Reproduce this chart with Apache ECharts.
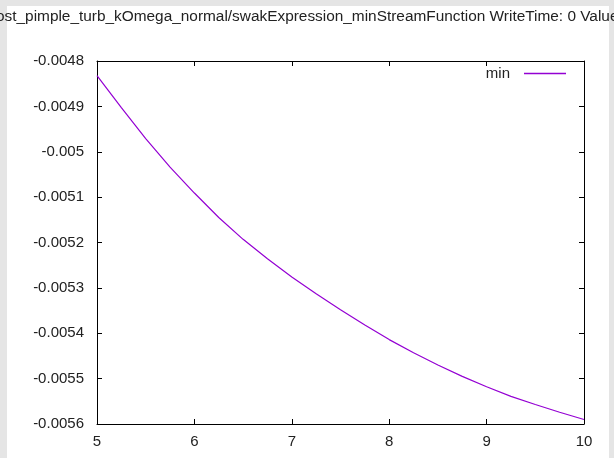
<!DOCTYPE html>
<html>
<head>
<meta charset="utf-8">
<script src="https://cdn.jsdelivr.net/npm/echarts@6/dist/echarts.min.js"></script>
<style>
html,body{margin:0;padding:0;background:#e5e5e5;}
#c{width:614px;height:458px;}
</style>
</head>
<body>
<div id="c"></div>
<script>
var titleText = 'ost_pimple_turb_kOmega_normal/swakExpression_minStreamFunction WriteTime: 0 Value';
var seriesName = 'min';
var xValues = [5, 5.25, 5.5, 5.75, 6, 6.25, 6.5, 6.75, 7, 7.25, 7.5, 7.75, 8, 8.25, 8.5, 8.75, 9, 9.25, 9.5, 9.75, 10];
var minValues = [-0.004832, -0.004903, -0.004971, -0.005034, -0.005091, -0.005145, -0.005193, -0.005236, -0.005276, -0.005313, -0.005348, -0.005382, -0.005414, -0.005443, -0.005470, -0.005495, -0.005518, -0.005539, -0.005557, -0.005574, -0.005590];
var xTicks = [5, 6, 7, 8, 9, 10];
var yTickLabels = ['-0.0056','-0.0055','-0.0054','-0.0053','-0.0052','-0.0051','-0.005','-0.0049','-0.0048'];

var FONT = '"Liberation Sans", Arial, sans-serif';
var chart = echarts.init(document.getElementById('c'), null, {renderer: 'canvas'});
var pts = xValues.map(function (x, i) { return [x, minValues[i]]; });
var lineColor = '#9400d3';
var axisLine = {show: true, lineStyle: {color: '#000', width: 1}};
var tick = {show: true, inside: true, length: 5, lineStyle: {color: '#000'}};

chart.setOption({
  backgroundColor: '#e5e5e5',
  animation: false,
  graphic: [{
    type: 'rect', z: -10, silent: true,
    shape: {x: 7, y: 6, width: 602, height: 452},
    style: {fill: '#ffffff'}
  }],
  title: {
    text: titleText, left: -4, top: 9, padding: 0,
    textStyle: {fontFamily: FONT, fontSize: 15.4, fontWeight: 'normal', color: '#222'}
  },
  legend: {
    data: [{name: seriesName, icon: 'rect'}],
    right: 48, top: 66, align: 'right', padding: 0,
    itemWidth: 42, itemHeight: 1.5,
    textStyle: {fontFamily: FONT, fontSize: 15, color: '#222', padding: [0, 9, 0, 0]}
  },
  grid: {left: 97, right: 30, top: 61, bottom: 34, containLabel: false, show: false},
  xAxis: [{
    type: 'value', min: xTicks[0], max: xTicks[xTicks.length - 1], interval: 1,
    axisLine: axisLine, axisTick: tick, splitLine: {show: false},
    axisLabel: {fontFamily: FONT, fontSize: 15, color: '#222', margin: 10,
      formatter: function (v) { return String(v); }}
  }, {
    type: 'value', position: 'top', min: xTicks[0], max: xTicks[xTicks.length - 1], interval: 1,
    axisLine: axisLine, axisTick: tick, splitLine: {show: false}, axisLabel: {show: false}
  }],
  yAxis: [{
    type: 'value', min: -0.0056, max: -0.0048, interval: 0.0001,
    axisLine: axisLine, axisTick: tick, splitLine: {show: false},
    axisLabel: {fontFamily: FONT, fontSize: 15, color: '#222', margin: 13,
      formatter: function (v) {
        var idx = Math.round((v + 0.0056) / 0.0001);
        return yTickLabels[idx] !== undefined ? yTickLabels[idx] : '';
      }}
  }, {
    type: 'value', position: 'right', min: -0.0056, max: -0.0048, interval: 0.0001,
    axisLine: axisLine, axisTick: tick, splitLine: {show: false}, axisLabel: {show: false}
  }],
  series: [{
    name: seriesName, type: 'line', data: pts, showSymbol: false, smooth: false,
    xAxisIndex: 0, yAxisIndex: 0,
    lineStyle: {color: lineColor, width: 1.2},
    itemStyle: {color: lineColor}
  }]
});
</script>
</body>
</html>
